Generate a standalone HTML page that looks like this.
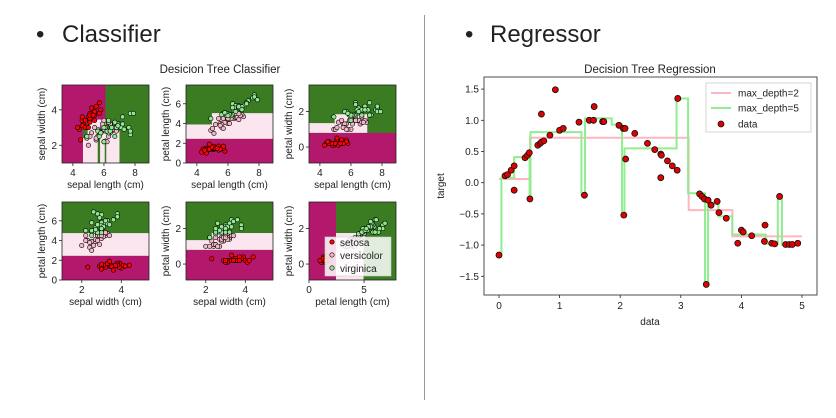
<!DOCTYPE html>
<html><head><meta charset="utf-8"><style>
body{margin:0;background:#fff;width:836px;height:413px;overflow:hidden;font-family:"Liberation Sans",sans-serif}
svg text{font-family:"Liberation Sans","DejaVu Sans",sans-serif;fill:#222}
</style></head><body>
<svg id="s" width="836" height="413" xmlns="http://www.w3.org/2000/svg">
<g><text x="36" y="42" font-size="24">•</text><text x="62" y="42" font-size="24">Classifier</text></g>
<g><text x="465" y="42" font-size="24">•</text><text x="490" y="42" font-size="24">Regressor</text></g>
<line x1="424.5" y1="15" x2="424.5" y2="400" stroke="#999"/>
<text x="220" y="73" font-size="11.5" text-anchor="middle">Desicion Tree Classifier</text>
<text x="650" y="73" font-size="11.5" text-anchor="middle">Decision Tree Regression</text>
</svg>
<script>
// ---- Iris subset: [sepal length, sepal width, petal length, petal width]
const setosa=[[5.1,3.5,1.4,0.2],[4.9,3.0,1.4,0.2],[4.7,3.2,1.3,0.2],[4.6,3.1,1.5,0.2],[5.0,3.6,1.4,0.2],[5.4,3.9,1.7,0.4],[4.6,3.4,1.4,0.3],[5.0,3.4,1.5,0.2],[4.4,2.9,1.4,0.2],[4.9,3.1,1.5,0.1],[5.4,3.7,1.5,0.2],[4.8,3.4,1.6,0.2],[4.8,3.0,1.4,0.1],[4.3,3.0,1.1,0.1],[5.8,4.0,1.2,0.2],[5.7,4.4,1.5,0.4],[5.4,3.9,1.3,0.4],[5.1,3.5,1.4,0.3],[5.7,3.8,1.7,0.3],[5.1,3.8,1.5,0.3],[5.4,3.4,1.7,0.2],[5.1,3.7,1.5,0.4],[4.6,3.6,1.0,0.2],[5.1,3.3,1.7,0.5],[4.8,3.4,1.9,0.2],[5.0,3.0,1.6,0.2],[5.2,4.1,1.5,0.1],[5.5,4.2,1.4,0.2],[4.5,2.3,1.3,0.3],[5.3,3.7,1.5,0.2]];
const versicolor=[[7.0,3.2,4.7,1.4],[6.4,3.2,4.5,1.5],[6.9,3.1,4.9,1.5],[5.5,2.3,4.0,1.3],[6.5,2.8,4.6,1.5],[5.7,2.8,4.5,1.3],[6.3,3.3,4.7,1.6],[4.9,2.4,3.3,1.0],[6.6,2.9,4.6,1.3],[5.2,2.7,3.9,1.4],[5.0,2.0,3.5,1.0],[5.9,3.0,4.2,1.5],[6.0,2.2,4.0,1.0],[6.1,2.9,4.7,1.4],[5.6,2.9,3.6,1.3],[6.7,3.1,4.4,1.4],[5.8,2.7,4.1,1.0],[6.2,2.2,4.5,1.5],[5.6,2.5,3.9,1.1],[5.9,3.2,4.8,1.8],[6.1,2.8,4.0,1.3],[6.3,2.5,4.9,1.5],[6.8,2.8,4.8,1.4],[6.0,2.9,4.5,1.5],[5.5,2.4,3.8,1.1],[5.4,3.0,4.5,1.5],[6.0,3.4,4.5,1.6],[5.1,2.5,3.0,1.1],[5.7,2.6,3.5,1.0],[6.7,3.0,5.0,1.7]];
const virginica=[[6.3,3.3,6.0,2.5],[5.8,2.7,5.1,1.9],[7.1,3.0,5.9,2.1],[6.5,3.0,5.8,2.2],[7.6,3.0,6.6,2.1],[4.9,2.5,4.5,1.7],[7.3,2.9,6.3,1.8],[6.7,2.5,5.8,1.8],[7.2,3.6,6.1,2.5],[6.4,2.7,5.3,1.9],[6.8,3.0,5.5,2.1],[5.7,2.5,5.0,2.0],[7.7,3.8,6.7,2.2],[7.7,2.6,6.9,2.3],[6.0,2.2,5.0,1.5],[6.9,3.2,5.7,2.3],[5.6,2.8,4.9,2.0],[7.7,2.8,6.7,2.0],[6.3,2.7,4.9,1.8],[6.7,3.3,5.7,2.1],[7.2,3.2,6.0,1.8],[6.2,2.8,4.8,1.8],[6.1,3.0,4.9,1.8],[6.4,2.8,5.6,2.1],[7.9,3.8,6.4,2.0],[6.3,3.4,5.6,2.4],[6.0,3.0,4.8,1.8],[6.9,3.1,5.4,2.1],[5.8,2.7,5.1,1.9],[6.5,3.0,5.2,2.0]];
const featureNames=["sepal length (cm)","sepal width (cm)","petal length (cm)","petal width (cm)"];
const featureRanges=[[3.3,8.9],[1.0,5.4],[0.0,7.9],[-0.9,3.5]];
const pairs=[[0,1],[0,2],[0,3],[1,2],[1,3],[2,3]];
const xTicks=[[4,6,8],[4,6,8],[4,6,8],[2,4],[2,4],[0,5]];
const yTicks=[[2,4],[0,2,4,6],[0,2],[0,2,4,6],[0,2],[0,2]];
const regions=[
 [[4.65,6.1,1.0,3.45,1],[6.1,8.9,1.0,5.4,2],[6.1,7.0,1.0,2.8,1],[4.65,4.95,2.4,3.0,2],[5.6,5.75,1.0,2.4,2],[6.05,6.15,1.0,2.4,2]],
 [[3.3,8.9,2.45,7.9,2],[3.3,4.97,2.45,3.9,1],[4.97,8.9,2.45,5.05,1]],
 [[3.3,8.9,0.8,3.5,2],[3.3,4.95,0.8,1.35,1],[4.95,7.05,0.8,1.85,1]],
 [[1.0,5.4,2.45,7.9,2],[1.0,5.4,2.45,4.75,1]],
 [[1.0,5.4,0.8,3.5,2],[2.3,5.4,0.8,1.75,1],[1.0,2.3,0.8,1.35,1]],
 [[2.45,7.9,-0.9,3.5,2],[2.45,4.95,-0.9,1.75,1]]
];
// ---- Regression data
const regX=[0.0,0.10,0.14,0.20,0.25,0.25,0.43,0.47,0.50,0.51,0.64,0.68,0.70,0.74,0.70,0.84,0.93,1.00,1.06,1.32,1.41,1.49,1.56,1.57,1.71,1.73,1.98,2.05,2.08,2.06,2.09,2.24,2.45,2.57,2.67,2.68,2.67,2.78,2.86,2.94,2.95,3.31,3.35,3.39,3.42,3.45,3.50,3.60,3.63,3.75,3.94,4.00,4.03,4.17,4.38,4.39,4.50,4.55,4.63,4.73,4.79,4.84,4.93];
const regY=[-1.16,0.11,0.13,0.20,0.27,-0.12,0.40,0.44,0.48,-0.26,0.60,0.63,0.65,0.67,1.10,0.76,1.49,0.84,0.87,0.97,-0.20,1.00,1.00,1.22,0.98,0.98,0.92,0.87,0.87,-0.52,0.38,0.79,0.63,0.53,0.46,0.44,0.08,0.35,0.27,0.20,1.35,-0.18,-0.22,-0.26,-1.63,-0.28,-0.36,-0.30,-0.48,-0.57,-0.97,-0.76,-0.79,-0.85,-0.94,-0.68,-0.97,-0.98,-0.22,-0.99,-0.99,-0.99,-0.97];
const d2Edges=[0,0.51,3.13,3.85,5.0];
const d2Vals=[0.06,0.72,-0.44,-0.86];
const d5Edges=[0,0.04,0.25,0.505,0.52,1.36,1.42,1.86,2.03,2.07,2.93,3.12,3.40,3.45,3.58,3.62,3.85,4.40,4.60,4.67,4.96];
const d5Vals=[-1.16,0.08,0.41,-0.26,0.81,-0.20,1.03,0.93,-0.52,0.55,1.35,-0.17,-1.63,-0.32,-0.30,-0.54,-0.83,-0.98,-0.21,-0.99];
const regXTicks=[0,1,2,3,4,5];
const regYTicks=[-1.5,-1.0,-0.5,0.0,0.5,1.0,1.5];

const NS="http://www.w3.org/2000/svg";
const svg=document.getElementById('s');
function mk(tag,attrs,parent){const e=document.createElementNS(NS,tag);for(const k in attrs)e.setAttribute(k,attrs[k]);(parent||svg).appendChild(e);return e;}
const regionColors=["#b3186d","#fbe6f0","#3b7c22"];
const classColors=["#ff0000","#f4b6c6","#8fe88f"];
const classes=[setosa,versicolor,virginica];
const panelX=[62,186,309],panelY=[85,202],PW=87,PH=78;

pairs.forEach((pr,i)=>{
  const px=panelX[i%3],py=panelY[Math.floor(i/3)];
  const [xa,xb]=featureRanges[pr[0]],[ya,yb]=featureRanges[pr[1]];
  const sx=v=>px+(v-xa)/(xb-xa)*PW, sy=v=>py+PH-(v-ya)/(yb-ya)*PH;
  const g=mk('g',{});
  
  
  const bg=mk('rect',{x:px,y:py,width:PW,height:PH,fill:regionColors[0]},g);
  
  
  regions[i].forEach(r=>{
    const e=mk('rect',{x:sx(r[0]),y:sy(r[3]),width:sx(r[1])-sx(r[0]),height:sy(r[2])-sy(r[3]),fill:regionColors[r[4]]},g);
    
    
  });
  classes.forEach((cl,c)=>cl.forEach(p=>{
    const e=mk('circle',{cx:sx(p[pr[0]]),cy:sy(p[pr[1]]),r:2.2,fill:classColors[c],stroke:"#000","stroke-width":0.6},g);
    
    
  }));
  const fr=mk('rect',{x:px,y:py,width:PW,height:PH,fill:"none",stroke:"#222","stroke-width":0.8},g);
  
  
  xTicks[i].forEach(t=>{
    mk('line',{x1:sx(t),x2:sx(t),y1:py+PH,y2:py+PH+3,stroke:"#222","stroke-width":0.8},g);
    const e=mk('text',{x:sx(t),y:py+PH+13,"font-size":10,"text-anchor":"middle"},g);e.textContent=t;
    
    
  });
  yTicks[i].forEach(t=>{
    mk('line',{x1:px-3,x2:px,y1:sy(t),y2:sy(t),stroke:"#222","stroke-width":0.8},g);
    const e=mk('text',{x:px-5,y:sy(t)+3.5,"font-size":10,"text-anchor":"end"},g);e.textContent=t;
    
    
  });
  const xl=mk('text',{x:px+PW/2,y:py+PH+25,"font-size":10,"text-anchor":"middle"},g);xl.textContent=featureNames[pr[0]];
  
  
  const yx=px-17;
  const yl=mk('text',{x:yx,y:py+PH/2,"font-size":10,"text-anchor":"middle",transform:`rotate(-90 ${yx} ${py+PH/2})`},g);yl.textContent=featureNames[pr[1]];
  
  
});
{
  const g=mk('g',{});
  
  
  mk('rect',{x:325,y:237,width:66,height:39,fill:"#fff","fill-opacity":0.85,stroke:"#ccc","stroke-width":0.6},g);
  ["setosa","versicolor","virginica"].forEach((n,c)=>{
    const m=mk('circle',{cx:332,cy:242+c*13,r:2.2,fill:classColors[c],stroke:"#000","stroke-width":0.6},g);
    
    
    const t=mk('text',{x:340,y:246+c*13,"font-size":10},g);t.textContent=n;
    
    
  });
}
{
  const L=484,R=817,T=77,B=295;
  const x=v=>499+v*60.6, y=v=>182.7-v*62.4;
  const g=mk('g',{});
  
  
  regXTicks.forEach(t=>{
    mk('line',{x1:x(t),x2:x(t),y1:B,y2:B+3,stroke:"#222","stroke-width":0.8},g);
    const e=mk('text',{x:x(t),y:B+14,"font-size":10,"text-anchor":"middle"},g);e.textContent=t;
    
    
  });
  regYTicks.forEach(t=>{
    mk('line',{x1:L-3,x2:L,y1:y(t),y2:y(t),stroke:"#222","stroke-width":0.8},g);
    const e=mk('text',{x:L-5,y:y(t)+3.5,"font-size":10,"text-anchor":"end"},g);e.textContent=t.toFixed(1).replace('-','−');
    
    
  });
  const xl=mk('text',{x:650,y:325,"font-size":10,"text-anchor":"middle"},g);xl.textContent="data";
  
  
  const yl=mk('text',{x:444,y:186,"font-size":10,"text-anchor":"middle",transform:"rotate(-90 444 186)"},g);yl.textContent="target";
  
  
  function stepPath(edges,vals){let d=`M${x(edges[0])},${y(vals[0])}`;for(let i=0;i<vals.length;i++){d+=` L${x(edges[i])},${y(vals[i])} L${x(edges[i+1])},${y(vals[i])}`;}return d;}
  const l2=mk('path',{d:stepPath(d2Edges,d2Vals),fill:"none",stroke:"#ffb6c1","stroke-width":2},g);
  
  
  const l5=mk('path',{d:stepPath(d5Edges,d5Vals),fill:"none",stroke:"#90ee90","stroke-width":2},g);
  
  
  regX.forEach((v,i)=>{
    const c=mk('circle',{cx:x(v),cy:y(regY[i]),r:3,fill:"#e00000",stroke:"#111","stroke-width":0.8},g);
    
    
  });
  const fr=mk('rect',{x:L,y:T,width:R-L,height:B-T,fill:"none",stroke:"#222","stroke-width":0.8},g);
  
  
  const lg=mk('g',{},g);
  
  
  mk('rect',{x:706,y:83,width:105,height:49,fill:"#fff",stroke:"#ccc","stroke-width":0.8},lg);
  mk('line',{x1:711,x2:731,y1:93,y2:93,stroke:"#ffb6c1","stroke-width":2},lg);
  mk('line',{x1:711,x2:731,y1:108,y2:108,stroke:"#90ee90","stroke-width":2},lg);
  mk('circle',{cx:721,cy:124,r:3,fill:"#e00000",stroke:"#111","stroke-width":0.8},lg);
  [["max_depth=2",96.5],["max_depth=5",111.5],["data",127.5]].forEach(a=>{
    const t=mk('text',{x:738,y:a[1],"font-size":10},lg);t.textContent=a[0];
    
    
  });
}
</script>
</body></html>
